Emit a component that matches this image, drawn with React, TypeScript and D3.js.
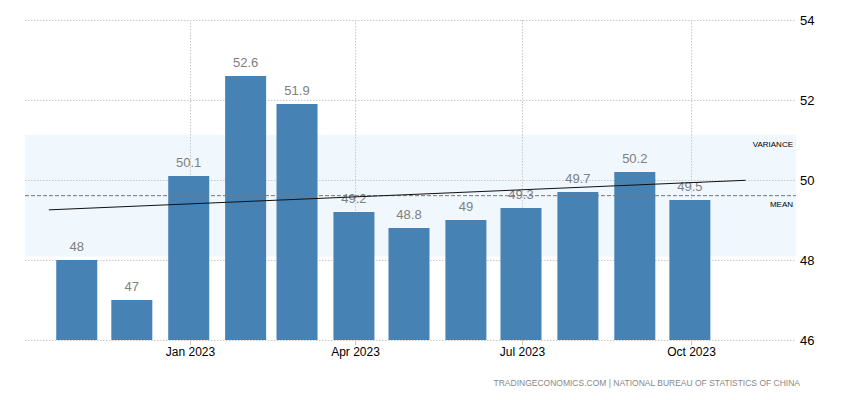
import React from "react";
import * as d3 from "d3";

const months = ["2022-11-01","2022-12-01","2023-01-01","2023-02-01","2023-03-01","2023-04-01","2023-05-01","2023-06-01","2023-07-01","2023-08-01","2023-09-01","2023-10-01"];
const values = [48, 47, 50.1, 52.6, 51.9, 49.2, 48.8, 49, 49.3, 49.7, 50.2, 49.5];
const yTicks = [46, 48, 50, 52, 54];
const xTickDates = ["2023-01-01", "2023-04-01", "2023-07-01", "2023-10-01"];
const xTickLabels = ["Jan 2023", "Apr 2023", "Jul 2023", "Oct 2023"];
const footer = "TRADINGECONOMICS.COM | NATIONAL BUREAU OF STATISTICS OF CHINA";

const W = 850, H = 400;
const left = 25, right = 796, top = 20, bottom = 340;
const font = "'Liberation Sans', Arial, sans-serif";

export default function App() {
  const parse = d3.utcParse("%Y-%m-%d");
  const dates = months.map((m) => parse(m) as Date);
  const x = d3.scaleUtc()
    .domain([parse("2022-10-03") as Date, parse("2023-11-27") as Date])
    .range([left, right]);
  const y = d3.scaleLinear().domain([46, 54]).range([bottom, top]);
  const bw = 41;
  const barShift = -1.5;

  const mean = d3.mean(values) as number;
  const sd = d3.deviation(values) as number;

  const n = values.length;
  const mx = (n - 1) / 2;
  let sxy = 0, sxx = 0;
  values.forEach((v, i) => { sxy += (i - mx) * (v - mean); sxx += (i - mx) * (i - mx); });
  const slope = sxy / sxx;
  const icpt = mean - slope * mx;
  const idxToX = (i: number) => x(dates[0]) + barShift + i * ((x(dates[n - 1]) - x(dates[0])) / (n - 1));
  const i0 = -0.5, i1 = 12;

  return (
    <svg width={W} height={H} style={{ display: "block", position: "absolute", left: 0, top: 0 }} fontFamily={font}>
      <rect x={0} y={0} width={W} height={H} fill="#fff" />
      <rect x={left} y={y(mean + sd)} width={right - left} height={y(mean - sd) - y(mean + sd)} fill="#f0f7fd" />
      {yTicks.map((t) => (
        <g key={t}>
          <line x1={left} x2={right} y1={y(t) + 0.5} y2={y(t) + 0.5} stroke="#c8c8c8" strokeDasharray="1.5,1.5" />
          <text x={800} y={y(t) + 5} fontSize={13} fill="#000">{t}</text>
        </g>
      ))}
      {xTickDates.map((d, i) => {
        const xx = Math.round(x(parse(d) as Date)) + 0.5;
        return (
          <g key={d}>
            <line x1={xx} x2={xx} y1={top} y2={bottom} stroke="#c8c8c8" strokeDasharray="1.5,1.5" />
            <line x1={xx} x2={xx} y1={bottom} y2={bottom + 5} stroke="#c8c8c8" />
            <text x={xx} y={bottom + 16} fontSize={12} textAnchor="middle" fill="#000">{xTickLabels[i]}</text>
          </g>
        );
      })}
      {values.map((v, i) => {
        const cx = x(dates[i]) + barShift;
        return (
          <g key={i}>
            <rect x={cx - bw / 2} y={y(v)} width={bw} height={y(46) - y(v)} fill="#4682b4" />
            <text x={cx} y={y(v) - 9} fontSize={13} textAnchor="middle" fill="#808080">{String(v)}</text>
          </g>
        );
      })}
      <line x1={left} x2={right} y1={y(mean)} y2={y(mean)} stroke="#777" strokeDasharray="4,2" />
      <line x1={idxToX(i0)} x2={idxToX(i1)} y1={y(icpt + slope * i0)} y2={y(icpt + slope * i1)} stroke="#111" strokeWidth={1} />
      <text x={793} y={y(mean + sd) + 12} fontSize={8} textAnchor="end" fill="#000">VARIANCE</text>
      <text x={793} y={y(mean) + 11} fontSize={8} textAnchor="end" fill="#000">MEAN</text>
      <text x={800} y={386} fontSize={8.5} textAnchor="end" fill="#888" style={{ whiteSpace: "pre" }}>{footer}</text>
    </svg>
  );
}
